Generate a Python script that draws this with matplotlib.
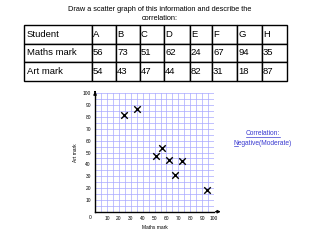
import numpy as np
import matplotlib.pyplot as plt
from matplotlib.ticker import FuncFormatter

plt.rcParams['font.family'] = ['Liberation Sans', 'DejaVu Sans']

students = ["A", "B", "C", "D", "E", "F", "G", "H"]
maths = [56, 73, 51, 62, 24, 67, 94, 35]
art = [54, 43, 47, 44, 82, 31, 18, 87]

fig = plt.figure(figsize=(3.2, 2.4), dpi=100)

fig.text(0.5, 0.975, "Draw a scatter graph of this information and describe the\ncorrelation:",
         ha='center', va='top', fontsize=5.3, linespacing=1.3)

# table
tab_ax = fig.add_axes([0.075, 0.664, 0.822, 0.232])
tab_ax.axis('off')
cells = [["Student"] + students,
         ["Maths mark"] + [str(v) for v in maths],
         ["Art mark"] + [str(v) for v in art]]
col_px = [67.7, 24.3, 24, 24, 26, 22, 25, 25, 25]
col_w = [w / sum(col_px) for w in col_px]
tbl = tab_ax.table(cellText=cells, colWidths=col_w, loc='center', bbox=[0, 0, 1, 1],
                   cellLoc='left')
tbl.auto_set_font_size(False)
tbl.set_fontsize(6.8)
for cell in tbl.get_celld().values():
    cell.set_linewidth(1.0)
    cell.PAD = 0.04

# scatter plot
ax = fig.add_axes([0.297, 0.118, 0.372, 0.493])
ax.set_xlim(0, 100)
ax.set_ylim(0, 100)
ticks = np.arange(5, 101, 5)
ax.set_xticks(ticks)
ax.set_yticks(ticks)
lbl = FuncFormatter(lambda v, p: f"{int(v)}" if int(v) % 10 == 0 else "")
ax.xaxis.set_major_formatter(lbl)
ax.yaxis.set_major_formatter(lbl)
ax.grid(True, color='#a8a8ff', linewidth=0.5)
ax.tick_params(length=0, labelsize=3.5, pad=3)
for s in ['top', 'right']:
    ax.spines[s].set_visible(False)
for s in ['left', 'bottom']:
    ax.spines[s].set_linewidth(1.0)
ax.text(-3, -3, "0", fontsize=3.5, ha='right', va='top')
ax.annotate('', xy=(108, 0), xytext=(99, 0),
            arrowprops=dict(arrowstyle='-|>', color='black', lw=1.0, mutation_scale=4),
            annotation_clip=False)
ax.annotate('', xy=(0, 104), xytext=(0, 99),
            arrowprops=dict(arrowstyle='-|>', color='black', lw=1.0, mutation_scale=4),
            annotation_clip=False)
ax.scatter(maths, art, marker='x', s=22, color='black', linewidths=1.0, zorder=3, clip_on=False)
ax.set_xlabel("Maths mark", fontsize=3.5, labelpad=3)
ax.set_ylabel("Art mark", fontsize=3.5, labelpad=3)

blue = '#3a3ad0'
t1 = fig.text(0.822, 0.442, "Correlation:", ha='center', va='center', fontsize=4.8, color=blue)
t2 = fig.text(0.822, 0.404, "Negative(Moderate)", ha='center', va='center', fontsize=4.8, color=blue)

fig.canvas.draw()
r = fig.canvas.get_renderer()
bb = t1.get_window_extent(r)
fig.add_artist(plt.Line2D([bb.x0 / 320, bb.x1 / 320], [(bb.y0 + 0.5) / 240] * 2,
                          color=blue, lw=0.5))
bb2 = t2.get_window_extent(r)
fig.add_artist(plt.Line2D([bb2.x0 / 320, (bb2.x0 + 4.5) / 320], [(bb2.y0 + 0.5) / 240] * 2,
                          color=blue, lw=0.5))

fig.savefig("out.png", dpi=100)
